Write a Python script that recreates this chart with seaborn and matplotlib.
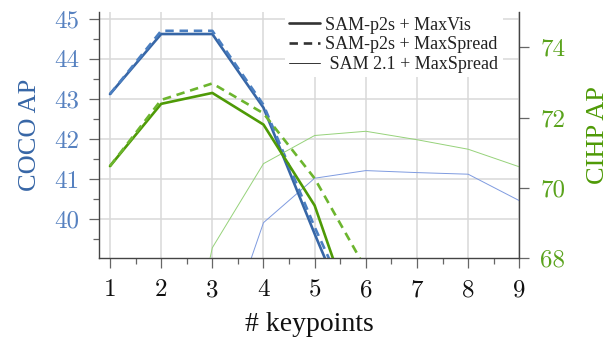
import matplotlib
matplotlib.use("Agg")
import matplotlib.pyplot as plt
import seaborn as sns
from matplotlib.lines import Line2D
from matplotlib.ticker import FixedLocator, MultipleLocator

# ---- data ----
kp_p2s = [1, 2, 3, 4, 5, 6]
coco_p2s_maxvis = [43.12, 44.62, 44.62, 42.78, 39.63, 36.6]
coco_p2s_maxspread = [43.12, 44.70, 44.70, 42.85, 39.80, 37.0]
cihp_p2s_maxvis = [70.62, 72.39, 72.70, 71.80, 69.50, 65.3]
cihp_p2s_maxspread = [70.62, 72.50, 72.97, 72.12, 70.27, 67.7]

kp_sam21_coco = [3, 4, 5, 6, 7, 8, 9]
coco_sam21_maxspread = [36.2, 39.91, 41.02, 41.21, 41.16, 41.12, 40.46]
kp_sam21_cihp = [2, 3, 4, 5, 6, 7, 8, 9]
cihp_sam21_maxspread = [61.6, 68.30, 70.69, 71.49, 71.61, 71.37, 71.10, 70.60]

x_ticks = [1, 2, 3, 4, 5, 6, 7, 8, 9]
coco_ticks = [40, 41, 42, 43, 44, 45]
cihp_ticks = [68, 70, 72, 74]
legend_labels = ["SAM-p2s + MaxVis", "SAM-p2s + MaxSpread", " SAM 2.1 + MaxSpread"]

# ---- style ----
sns.set_style("white")
plt.rcParams["font.family"] = ["Liberation Serif", "DejaVu Serif"]

BLUE = "#3766a6"
BLUE_D = "#4a7ec0"
BLUE_T = "#7f9be0"
BLUE_LBL = "#5681c0"
GREEN = "#4e9a06"
GREEN_D = "#6cb52e"
GREEN_T = "#96d27a"
GREEN_LBL = "#5aa31c"
DASH = (0, (3.2, 2.2))

fig = plt.figure(figsize=(6.16, 3.40), dpi=100)
ax = fig.add_axes([99 / 616, 1 - 258.3 / 340, (519.3 - 99) / 616, (258.3 - 12) / 340])
ax2 = ax.twinx()

# left axis (COCO)
sns.lineplot(x=kp_sam21_coco, y=coco_sam21_maxspread, ax=ax, color=BLUE_T, linewidth=0.7, legend=False)
sns.lineplot(x=kp_p2s, y=coco_p2s_maxvis, ax=ax, color=BLUE, linewidth=1.9, legend=False)
sns.lineplot(x=kp_p2s, y=coco_p2s_maxspread, ax=ax, color=BLUE_D, linewidth=1.9, linestyle=DASH, legend=False)

# right axis (CIHP)
sns.lineplot(x=kp_sam21_cihp, y=cihp_sam21_maxspread, ax=ax2, color=GREEN_T, linewidth=0.7, legend=False)
sns.lineplot(x=kp_p2s, y=cihp_p2s_maxvis, ax=ax2, color=GREEN, linewidth=1.9, legend=False)
sns.lineplot(x=kp_p2s, y=cihp_p2s_maxspread, ax=ax2, color=GREEN_D, linewidth=1.9, linestyle=DASH, legend=False)

ax.set_xlim(0.785, 9.0)
ax.set_ylim(39.02, 45.17)
ax2.set_ylim(68, 75)

# grid
ax.grid(True, which="major", color="#d8d8d8", linewidth=1.1)
ax.set_axisbelow(True)

# ticks
ax.xaxis.set_major_locator(FixedLocator(x_ticks))
ax.xaxis.set_minor_locator(MultipleLocator(0.5))
ax.yaxis.set_major_locator(FixedLocator(coco_ticks))
ax.yaxis.set_minor_locator(MultipleLocator(0.5))
ax2.yaxis.set_major_locator(FixedLocator(cihp_ticks))

tick_font = {"family": "cmr10", "size": 18}
ax.set_xticklabels([str(v) for v in x_ticks], fontdict=tick_font, color="#111111")
ax.set_yticklabels([str(v) for v in coco_ticks], fontdict=tick_font, color=BLUE_LBL)
ax2.set_yticklabels([str(v) for v in cihp_ticks], fontdict=tick_font, color=GREEN_LBL)

ax.tick_params(axis="y", which="major", direction="out", length=7, width=0.9,
               color="#666666", pad=7, left=True)
ax.tick_params(axis="x", which="major", direction="out", length=7, width=0.9,
               color="#666666", pad=8, bottom=True)
ax.tick_params(axis="both", which="minor", direction="out", length=4, width=0.9,
               color="#666666", bottom=True, left=True)
ax2.tick_params(axis="y", which="major", direction="out", length=7, width=0.9,
                color="#666666", pad=8, right=True)
ax2.tick_params(axis="y", which="minor", right=False)

for a in (ax, ax2):
    a.spines["top"].set_visible(False)
ax.spines["right"].set_visible(False)
ax2.spines["left"].set_visible(False)
ax2.spines["bottom"].set_visible(False)
for s in (ax.spines["left"], ax.spines["bottom"], ax2.spines["right"]):
    s.set_color("#444444")
    s.set_linewidth(1.0)

ax.set_xlabel("# keypoints", fontsize=20, color="#111111", labelpad=8)
ax.set_ylabel("COCO AP", fontsize=19, color=BLUE, labelpad=10)
ax2.set_ylabel("CIHP AP", fontsize=19, color=GREEN, labelpad=16)

# legend
handles = [
    Line2D([], [], color="#333333", linewidth=1.9),
    Line2D([], [], color="#333333", linewidth=1.9, linestyle=DASH),
    Line2D([], [], color="#333333", linewidth=0.7),
]
leg = ax2.legend(handles, legend_labels, loc="upper right", bbox_to_anchor=(0.961, 1.0),
                 borderaxespad=0.0, frameon=True, fancybox=False, framealpha=1.0,
                 facecolor="white", edgecolor="none", labelspacing=0.15,
                 handlelength=1.7, handletextpad=0.3, borderpad=0.25,
                 prop={"family": "Liberation Serif", "size": 13})
for t in leg.get_texts():
    t.set_color("#222222")

fig.savefig("out.png", dpi=100)
